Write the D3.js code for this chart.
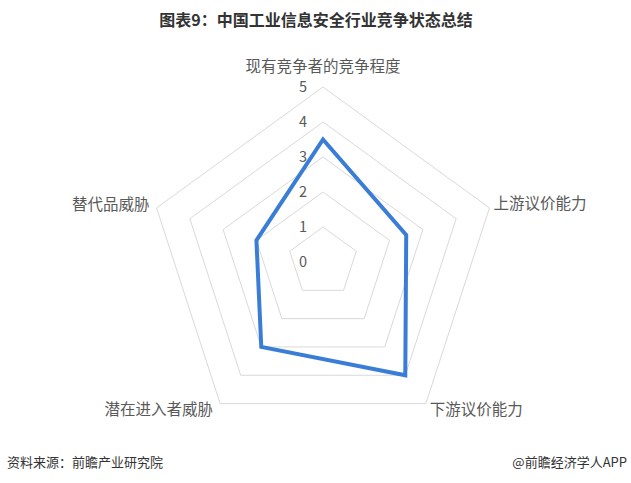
<!DOCTYPE html>
<html><head><meta charset="utf-8">
<script src="https://cdn.jsdelivr.net/npm/d3@7"></script>
<style>body{margin:0;background:#fff}svg{display:block}</style>
</head><body>
<script>
const categories = ["现有竞争者的竞争程度","上游议价能力","下游议价能力","潜在进入者威胁","替代品威胁"];
const values = [3.5, 2.5, 4, 3, 2];
const tickValues = [0,1,2,3,4,5];
const title = "图表9：中国工业信息安全行业竞争状态总结";
const source = "资料来源：前瞻产业研究院";
const credit = "@前瞻经济学人APP";

const W = 631, H = 483;
const cx = 323, cy = 262;
const svg = d3.select("body").append("svg").attr("width", W).attr("height", H);
const font = "'Microsoft YaHei','Noto Sans CJK SC',sans-serif";

const r = d3.scaleLinear().domain([0,5]).range([0,175]);
const ang = d3.scaleLinear().domain([0, categories.length]).range([0, 2*Math.PI]);
const pt = (i, v) => [cx + r(v)*Math.sin(ang(i)), cy - r(v)*Math.cos(ang(i))];

// title
svg.append("text").attr("x", 316).attr("y", 26).attr("text-anchor","middle")
  .attr("font-family", "'Noto Sans CJK SC',sans-serif").attr("font-weight","bold")
  .attr("font-size", 16).attr("fill","#333").text(title);

// grid rings
const g = svg.append("g");
tickValues.filter(t => t > 0).forEach(t => {
  const pts = categories.map((c,i) => pt(i,t));
  g.append("polygon").attr("points", pts.map(p => p.join(",")).join(" "))
    .attr("fill","none").attr("stroke","#d9d9d9").attr("stroke-width",1);
});

// tick labels
tickValues.forEach(t => {
  g.append("text").attr("x", cx - 20).attr("y", cy - r(t)).attr("dy","0.35em")
    .attr("text-anchor","middle").attr("font-family",font).attr("font-size",14.5)
    .attr("fill","#595959").text(t);
});

// data line
const line = d3.line().curve(d3.curveLinearClosed);
g.append("path").attr("d", line(values.map((v,i) => pt(i,v))))
  .attr("fill","none").attr("stroke","#3a7dd6").attr("stroke-width",4).attr("stroke-linejoin","miter");

// category labels
categories.forEach((c,i) => {
  const [x,y] = pt(i, 5);
  let anchor = "middle", dx = 0, dy = 0;
  const s = Math.sin(ang(i));
  if (Math.abs(s) < 0.01) { dy = -20; }
  else if (s > 0) { anchor = "start"; dx = 4; dy = (Math.cos(ang(i)) > 0) ? -4 : 6; }
  else { anchor = "end"; dx = -7; dy = (Math.cos(ang(i)) > 0) ? -3 : 6; }
  g.append("text").attr("x", x+dx).attr("y", y+dy).attr("dy","0.35em")
    .attr("text-anchor",anchor).attr("font-family",font).attr("font-size",15.5)
    .attr("fill","#595959").text(c);
});

// footer
svg.append("text").attr("x", 7).attr("y", 467).attr("font-family",font).attr("font-size",13)
  .attr("fill","#333").text(source);
svg.append("text").attr("x", 627).attr("y", 467).attr("text-anchor","end").attr("font-family",font).attr("font-size",13)
  .attr("fill","#333").text(credit);
</script>
</body></html>
